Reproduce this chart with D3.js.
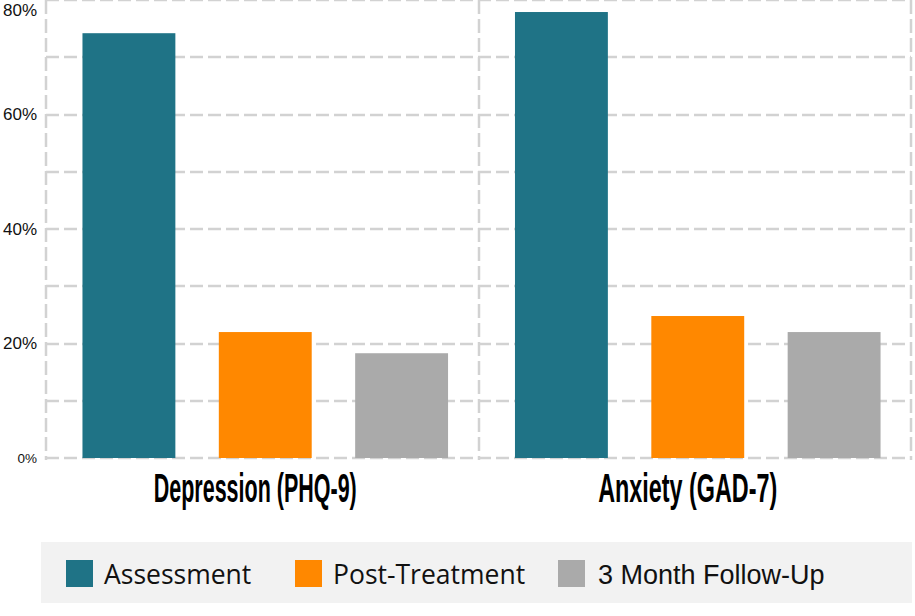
<!DOCTYPE html>
<html>
<head>
<meta charset="utf-8">
<script src="https://cdn.jsdelivr.net/npm/d3@7"></script>
<style>
  body { margin: 0; background: #fff; }
  svg { display: block; }
</style>
</head>
<body>
<div id="chart"></div>
<script>
// categories along the x axis
var categories = ["Depression (PHQ-9)", "Anxiety (GAD-7)"];

// series names (legend order)
var seriesNames = ["Assessment", "Post-Treatment", "3 Month Follow-Up"];

// percent values per series, one per category
var assessment = [74.2, 77.9];
var postTreatment = [22.0, 24.8];
var followUp = [18.3, 22.0];

// y tick labels (gridlines every 10, labels every 20)
var yTicks = [0, 20, 40, 60, 80];
var yGrid = [0, 10, 20, 30, 40, 50, 60, 70, 80];

var colors = ["#1f7386", "#ff8800", "#aaaaaa"];

var W = 915, H = 616;
var plotLeft = 46, plotRight = 911, plotTop = 0, plotBottom = 458;

var seriesValues = [assessment, postTreatment, followUp];

var svg = d3.select("#chart")
    .append("svg")
    .attr("width", W)
    .attr("height", H);

var x = d3.scaleBand()
    .domain(categories)
    .range([plotLeft, plotRight])
    .padding(0);

var xInner = d3.scaleBand()
    .domain(seriesNames)
    .range([0, x.bandwidth()])
    .paddingInner(0.3187)
    .paddingOuter(0.2454)
    .align(0.545);

var y = d3.scaleLinear()
    .domain([0, 80])
    .range([plotBottom, plotTop]);

//horizontal grid
svg.append("g")
    .selectAll("line")
    .data(yGrid)
    .enter()
    .append("line")
    .attr("x1", plotLeft)
    .attr("x2", plotRight)
    .attr("y1", d => Math.round(y(d)))
    .attr("y2", d => Math.round(y(d)))
    .attr("stroke", "#d2d2d2")
    .attr("stroke-width", 2.5)
    .attr("stroke-dasharray", "13,5");

//vertical grid at band edges
var xEdges = categories.map(c => x(c)).concat([plotRight]);
svg.append("g")
    .selectAll("line")
    .data(xEdges)
    .enter()
    .append("line")
    .attr("x1", d => Math.round(d))
    .attr("x2", d => Math.round(d))
    .attr("y1", plotTop)
    .attr("y2", plotBottom + 2)
    .attr("stroke", "#d2d2d2")
    .attr("stroke-width", 2.5)
    .attr("stroke-dasharray", "14,5");

//y labels
svg.append("g")
    .selectAll("text")
    .data(yTicks)
    .enter()
    .append("text")
    .attr("x", 37)
    .attr("y", d => Math.max(y(d), 10))
    .attr("dy", "0.35em")
    .attr("text-anchor", "end")
    .attr("font-family", "Liberation Sans, Arial, sans-serif")
    .attr("font-size", d => d == 0 ? 13.5 : 17)
    .attr("fill", "#111")
    .text(d => d + "%");

//bars
var groups = svg.append("g")
    .selectAll("g")
    .data(categories)
    .enter()
    .append("g")
    .attr("transform", d => "translate(" + x(d) + ",0)");

groups.selectAll("rect")
    .data(function(c, ci) {
        return seriesNames.map(function(s, si) {
            return {series: s, value: seriesValues[si][ci], color: colors[si]};
        });
    })
    .enter()
    .append("rect")
    .attr("x", d => xInner(d.series))
    .attr("width", xInner.bandwidth())
    .attr("y", d => y(d.value))
    .attr("height", d => plotBottom - y(d.value))
    .attr("fill", d => d.color);

//category labels
var labelWidths = [203, 179];
svg.append("g")
    .selectAll("text")
    .data(categories)
    .enter()
    .append("text")
    .attr("x", d => x(d) + x.bandwidth() / 2 - 7)
    .attr("y", 502)
    .attr("text-anchor", "middle")
    .attr("font-family", "Liberation Sans Narrow, Arial Narrow, sans-serif")
    .attr("font-weight", "bold")
    .attr("font-size", 40)
    .attr("textLength", (d, i) => labelWidths[i])
    .attr("lengthAdjust", "spacingAndGlyphs")
    .attr("fill", "#000")
    .text(d => d);

//legend
svg.append("rect")
    .attr("x", 41)
    .attr("y", 542)
    .attr("width", 871)
    .attr("height", 61)
    .attr("fill", "#f2f2f2");

var legendX = [66, 295, 558];
var legend = svg.append("g")
    .selectAll("g")
    .data(seriesNames)
    .enter()
    .append("g")
    .attr("transform", (d, i) => "translate(" + legendX[i] + ",560)");

legend.append("rect")
    .attr("width", 27)
    .attr("height", 27)
    .attr("fill", (d, i) => colors[i]);

legend.append("text")
    .attr("x", (d, i) => i == 2 ? 40 : 38)
    .attr("y", 24)
    .attr("font-family", (d, i) => i == 2 ? "Liberation Sans, Arial, sans-serif" : "Open Sans, Noto Sans, sans-serif")
    .attr("font-size", (d, i) => i == 2 ? 27 : 26.5)
    .attr("fill", "#111")
    .text(d => d);
</script>
</body>
</html>
